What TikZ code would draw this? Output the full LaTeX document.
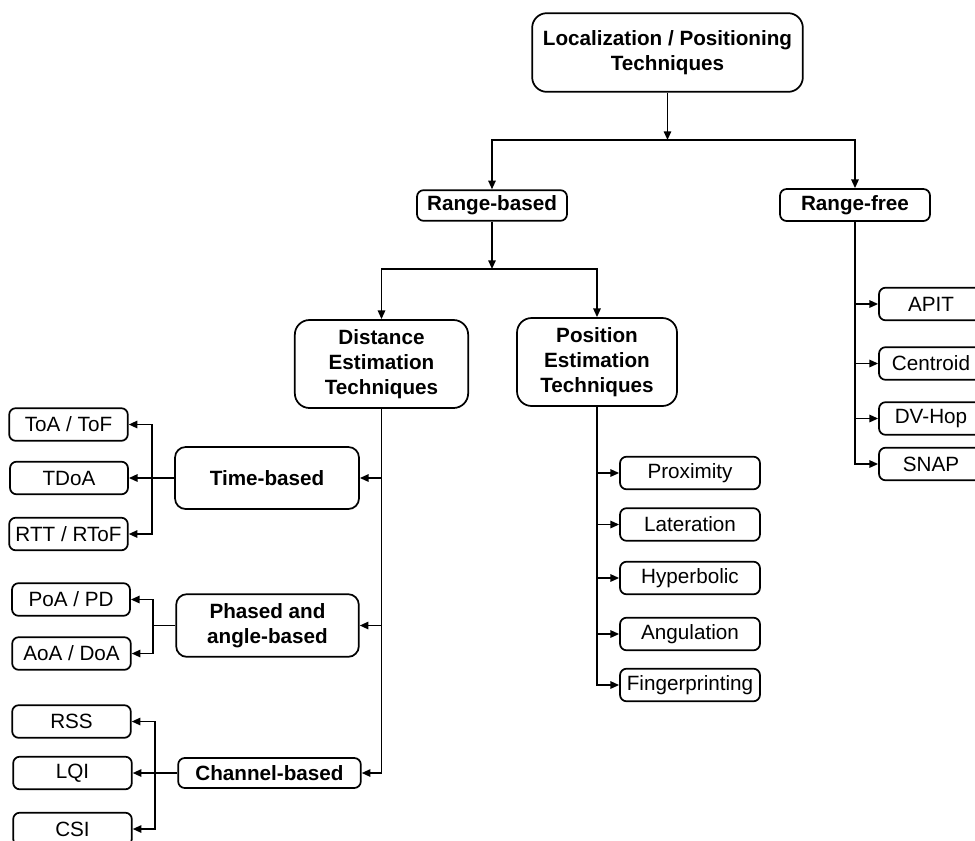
\documentclass[tikz,border=0pt]{standalone}
\usepackage{fontspec}
\setmainfont{Liberation Sans}
\usepackage{tikz}
\usetikzlibrary{arrows.meta, positioning}

\begin{document}
\begin{tikzpicture}[
  x=0.75pt, y=-0.75pt,
  line width=1.3pt,
  font=\fontsize{15.5}{18.5}\selectfont,
  topbox/.style={draw, rounded corners=11pt, align=center, inner sep=0pt, font=\fontsize{15.5}{18.5}\selectfont\bfseries},
  midbox/.style={draw, rounded corners=8pt, align=center, inner sep=0pt, font=\fontsize{15.5}{18.5}\selectfont\bfseries},
  leaf/.style={draw, rounded corners=5pt, align=center, inner sep=0pt, minimum height=24.5pt},
  arr/.style={-{Triangle[length=6.5pt, width=5.5pt]}}
]
  \useasboundingbox (0,0) rectangle (975,840);
  \clip (0,0) rectangle (975,840);

  % Root
  \node[topbox, minimum width=203pt, minimum height=59pt] (root) at (667.5, 52.5) {Localization / Positioning\\Techniques};
  \coordinate (jroot) at (667.5, 140);
  \draw[arr] (root) -- (jroot);

  % Range-based / Range-free
  \node[midbox, rounded corners=5pt, minimum width=112.5pt, minimum height=23pt] (rbased) at (492, 205.5) {Range-based};
  \node[midbox, rounded corners=5pt, minimum width=112.5pt, minimum height=24pt] (rfree) at (855, 205) {Range-free};
  \draw[arr] (jroot) -| (rbased);
  \draw[arr] (jroot) -| (rfree);

  % Distance / Position estimation
  \node[topbox, minimum width=130pt, minimum height=66pt] (dist) at (381.5, 364) {Distance\\Estimation\\Techniques};
  \node[topbox, minimum width=120pt, minimum height=66pt] (pos) at (597, 362) {Position\\Estimation\\Techniques};
  \coordinate (jrb) at (492, 269);
  \draw[arr] (rbased) -- (jrb);
  \draw[arr] (jrb) -| (dist);
  \draw[arr] (jrb) -| (pos);

  % Distance estimation groups
  \node[midbox, minimum width=138pt, minimum height=46.5pt] (time) at (267, 478) {Time-based};
  \node[midbox, minimum width=137pt, minimum height=47pt] (phase) at (267.5, 625.5) {Phased and\\angle-based};
  \node[midbox, rounded corners=5pt, minimum width=137pt, minimum height=22.5pt] (chan) at (269.5, 773) {Channel-based};
  \draw[arr] (dist) |- (chan);
  \draw[arr] (dist.south |- time) -- (time);
  \draw[arr] (dist.south |- phase) -- (phase);

  % Time-based
  \node[leaf, minimum width=89pt] (toa) at (68.5, 424.5) {ToA / ToF};
  \node[leaf, minimum width=88.5pt] (tdoa) at (69, 478) {TDoA};
  \node[leaf, minimum width=89pt] (rtt) at (68.5, 534) {RTT / RToF};
  \coordinate (jtime) at (152, 478);
  \draw (time) -- (jtime);
  \draw[arr] (jtime) |- (toa);
  \draw[arr] (jtime) -- (tdoa);
  \draw[arr] (jtime) |- (rtt);

  % Phase and angle
  \node[leaf, minimum width=88.5pt] (poa) at (71, 599.5) {PoA / PD};
  \node[leaf, minimum width=89pt] (aoa) at (71.5, 653.5) {AoA / DoA};
  \coordinate (jphase) at (153, 625.5);
  \draw (phase) -- (jphase);
  \draw[arr] (jphase) |- (poa);
  \draw[arr] (jphase) |- (aoa);

  % Channel
  \node[leaf, minimum width=89pt] (rss) at (71.5, 721.5) {RSS};
  \node[leaf, minimum width=89pt] (lqi) at (72.5, 773) {LQI};
  \node[leaf, minimum width=89pt] (csi) at (72.5, 829) {CSI};
  \coordinate (jchan) at (155, 773);
  \draw (chan) -- (jchan);
  \draw[arr] (jchan) |- (rss);
  \draw[arr] (jchan) -- (lqi);
  \draw[arr] (jchan) |- (csi);

  % Position estimation
  \foreach \n/\y/\t in {prox/473/Proximity, later/524.5/Lateration, hyper/578/Hyperbolic, angul/634/Angulation, finger/685/Fingerprinting} {
    \node[leaf, minimum width=105pt] (\n) at (690, \y) {\t};
  }
  \draw[arr] (pos) |- (finger);
  \foreach \n in {prox, later, hyper, angul} {
    \draw[arr] (pos.south |- \n) -- (\n);
  }

  % Range-free
  \foreach \n/\y/\t in {apit/304/APIT, centroid/363.5/Centroid, dvhop/418.5/DV-Hop, snap/464/SNAP} {
    \node[leaf, minimum width=78pt] (\n) at (931, \y) {\t};
  }
  \draw[arr] (rfree) |- (snap);
  \foreach \n in {apit, centroid, dvhop} {
    \draw[arr] (rfree.south |- \n) -- (\n);
  }
\end{tikzpicture}
\end{document}
